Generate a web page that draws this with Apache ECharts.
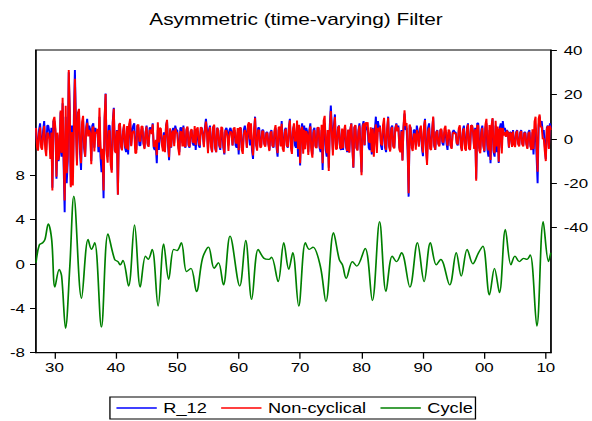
<!DOCTYPE html>
<html>
<head>
<meta charset="utf-8">
<script src="https://cdn.jsdelivr.net/npm/echarts@6/dist/echarts.min.js"></script>
<style>
  html, body { margin: 0; padding: 0; background: #fff; overflow: hidden; }
  /* the graph is laid out at 455px wide and stretched to 592px */
  #chart { width: 455px; height: 421px; transform: scaleX(1.3011); transform-origin: 0 0; }
</style>
</head>
<body>
<div id="chart"></div>
<script>
// Filter decomposition of monthly returns, six observations per year from 1927
const startYear = 1927;
const obsPerYear = 6;

// R_12 (right axis), one row per year
const r12 = [
  5, -3, -4, 4, 7, -2,
  -3, 4, 8, -2, -5, 6,
  6, 3, -6, 5, -22, 8,
  8, 3, -18, 2, -10, -6,
  12, -8, 16, -12, -33, 10,
  -20, -10, 30, 12, -21, 6,
  -16, 10, 31, 8, -10, 12,
  12, -6, -14, 5, 8, -4,
  -8, 5, 9, 3, 6, 4,
  -10, 6, 7, -4, 5, 3,
  4, -6, 10, -8, -15, -9,
  -26.7, 8, 20.4, -5, -8, 6,
  6, -10, -14, 8, 14, -5,
  -6, 4, -25, 6, 7, -3,
  -5, 3, 6, -4, -6, 4,
  -7, 5, 8, -3, 4, 6,
  7, -4, -5, 6, 5, -3,
  -3, 4, 5, -2, -4, 3,
  6, -2, -3, 5, 5, 3,
  7, -4, -5, -3, -11, 4,
  -5, 3, 4, -2, -4, 3,
  -5, 6, 8, -3, -9.6, 4,
  -4, 3, 5, -2, 6, 4,
  4, -3, -6, 5, 5, -2,
  6, -3, -4, 4, 5, -3,
  -4, 3, 4, -2, -3, 4,
  -5, 2, 3, -3, -4, 5,
  5, 2, -3, 5, 9, 4,
  -5, 4, 6, -3, -6, 5,
  6, -4, -6, 5, 4, -3,
  -5, 4, 3, -4, -7, 4,
  5, 3, -3, 4, 5, 3,
  -3, 4, 4, -3, -4, 3,
  -7, 4, 5, -4, -5, 4,
  6, 3, -4, 5, 5, -3,
  4, -5, -9, 3, 10, -2,
  -4, 5, 5, -3, -3, 4,
  4, -2, -3, 3, 3, -2,
  -5, 3, 4, -3, -4, 3,
  5, -4, -8, 4, 5, -3,
  8, -3, -4, 4, 5, -3,
  -4, 5, 9, -3, -6, 4,
  6, -3, -4, 5, -8, 4,
  -12, 4, 7, -5, 6, -3,
  5, 3, -6, 4, 7, -4,
  -7, 4, 5, -3, -4, 5,
  5, -4, -6, 4, -14, 5,
  7, -5, -8, 4, -13, 6,
  15, 5, -5, 6, 11, -4,
  -4, 5, 6, -4, -5, 4,
  -5, 3, 5, -4, -6, 4,
  -6, 4, 7, -3, -13, 5,
  6, -4, -5, 4, 7, -3,
  -15, 6, 8, -3, 6, 4,
  5, -4, -5, 3, -7, 5,
  -6, 4, 10, -3, 8, 5,
  6, -3, -5, 4, 7, -4,
  -6, 4, 10, -3, -5, 5,
  6, -3, -4, 5, 7, 4,
  6, -4, -5, 4, -9.6, 5,
  11.4, 4, 5, -5, -26, 6,
  5, -3, -4, 4, 4, -3,
  6, 3, -3, 4, 5, -4,
  -7.8, 5, 9, -4, -10, 5,
  7, -3, -4, 4, 9.6, -3,
  -5, 3, 4, -2, -3, 4,
  4, -2, -3, 3, 4, -2,
  -5, 3, 3, -3, -4, 3,
  4, 3, 3, -2, -3, 4,
  5, -3, -5, 4, 6, -3,
  -4, 5, 7, -4, -5, 6,
  6, 3, -4, 5, -18, 7,
  7, -4, -5, 4, 6, -3,
  -6, 5, 7, -5, -8, 4,
  -11, 5, 9, -6, -8, 6,
  -6, 4, -10.8, 5, 7, -4,
  8, 4, 5, 2, 4, 3,
  -4, 3, 3, -3, 4, -2,
  -3, 3, 4, -2, -3, 3,
  4, -2, -3, 3, 3, -2,
  -4, 3, 4, -3, -5, 3,
  -7, 4, 5, -8, -20, 6,
  10, 6, 8, 3, 4, -3,
  -9, 5, 6, -4, 7, 5
];

// Non-cyclical component (right axis), one row per year
const nonCyclical = [
  4.9, -3.7, -5.3, 2.5, 5.2, -3.9,
  -4.9, 2.0, 5.9, -4.5, -7.8, 2.8,
  2.4, -0.3, -9.0, 2.9, -23.2, 8.4,
  9.9, 4.5, -17.0, 2.8, -9.5, -5.3,
  12.8, -6.3, 18.5, -8.1, -27.7, 14.9,
  -15.5, -7.2, 31.0, 12.1, -21.8, 3.1,
  -21.0, 4.6, 27.0, 4.1, -12.0, 11.7,
  13.5, -3.7, -11.0, 7.7, 10.4, -2.8,
  -8.0, 4.1, 7.2, 1.1, 4.0, 2.3,
  -11.4, 4.6, 5.5, -5.7, 3.2, 2.4,
  4.5, -3.7, 14.0, -3.1, -9.3, -4.4,
  -23.2, 9.7, 20.2, -6.5, -10.7, 3.5,
  3.8, -11.7, -15.2, 7.1, 13.5, -5.4,
  -6.3, 3.8, -25.2, 6.0, 7.1, -3.1,
  -5.2, 3.2, 6.6, -2.9, -4.4, 5.8,
  -5.0, 6.5, 9.0, -3.3, 2.4, 3.4,
  3.5, -6.5, -6.4, 6.1, 6.5, -1.2,
  -0.9, 5.5, 5.8, -1.9, -4.6, 2.5,
  5.5, -2.6, -3.6, 4.1, 3.8, 2.2,
  6.6, -3.4, -3.4, -0.4, -7.4, 7.5,
  -1.6, 5.0, 4.6, -2.6, -5.7, 1.7,
  -6.0, 5.8, 8.6, -2.0, -8.3, 4.8,
  -3.8, 2.5, 3.8, -3.3, 4.7, 2.8,
  2.8, -4.3, -7.4, 3.4, 3.1, -3.4,
  5.2, -3.2, -3.6, 4.5, 5.6, -2.5,
  -3.5, 3.5, 4.4, -1.2, -1.8, 5.8,
  -2.7, 4.3, 5.2, -1.4, -3.0, 5.3,
  4.6, 1.4, -3.8, 4.0, 7.8, 2.7,
  -6.5, 2.9, 5.3, -3.4, -6.0, 5.2,
  6.4, -3.8, -6.0, 5.0, 3.9, -2.7,
  -4.2, 5.4, 4.9, -2.8, -6.5, 3.7,
  3.8, 1.2, -5.4, 2.0, 3.5, 2.3,
  -3.0, 4.6, 5.2, -1.5, -2.1, 4.9,
  -5.1, 5.0, 5.0, -4.9, -6.8, 2.1,
  4.0, 2.0, -4.0, 6.3, 7.5, -0.3,
  7.0, -2.8, -7.5, 3.5, 9.5, -2.9,
  -5.3, 3.9, 4.0, -3.9, -3.7, 3.4,
  3.5, -2.5, -3.5, 2.6, 2.6, -2.5,
  -5.5, 2.5, 3.4, -3.2, -3.7, 3.8,
  6.2, -2.6, -6.4, 5.1, 5.5, -3.4,
  6.8, -4.5, -5.8, 2.9, 4.5, -3.1,
  -3.6, 4.9, 8.4, -3.7, -6.8, 4.1,
  7.0, -1.0, -1.0, 8.3, -4.5, 6.3,
  -11.0, 3.8, 5.5, -6.7, 4.1, -4.7,
  3.5, 1.7, -7.2, 2.7, 5.6, -5.5,
  -8.5, 2.8, 4.0, -3.6, -4.2, 5.0,
  5.2, -3.2, -4.5, 6.3, -11.0, 8.2,
  10.4, -2.6, -6.5, 4.0, -14.5, 4.0,
  12.5, 2.5, -7.5, 4.2, 9.8, -4.8,
  -4.4, 4.8, 5.9, -3.8, -4.5, 4.7,
  -4.2, 4.1, 6.3, -3.1, -5.5, 4.2,
  -6.2, 3.9, 6.9, -3.0, -12.9, 5.2,
  6.2, -4.1, -5.3, 3.4, 6.0, -4.2,
  -16.4, 4.8, 7.0, -2.8, 7.5, 6.0,
  7.5, -1.1, -1.7, 5.2, -6.0, 4.5,
  -8.0, 1.3, 6.5, -6.3, 5.0, 3.3,
  5.5, -2.3, -3.0, 6.3, 9.5, -2.3,
  -5.0, 4.3, 9.5, -3.6, -5.7, 4.3,
  5.3, -3.5, -4.3, 4.6, 6.5, 3.4,
  5.2, -4.9, -6.0, 3.4, -9.8, 5.7,
  12.9, 5.8, 7.1, -3.2, -24.5, 6.5,
  4.5, -4.0, -5.5, 2.3, 2.1, -4.9,
  4.1, 1.8, -3.5, 4.3, 6.0, -2.7,
  -6.2, 5.6, 8.5, -5.2, -11.8, 3.2,
  5.1, -4.5, -5.0, 3.8, 10.1, -2.7,
  -4.9, 2.9, 3.7, -2.4, -3.4, 4.1,
  4.5, -1.1, -1.7, 4.6, 5.9, -0.1,
  -3.1, 4.2, 3.5, -3.0, -4.5, 2.3,
  3.0, 2.3, 2.5, -2.0, -2.5, 4.8,
  6.1, -2.7, -5.5, 3.2, 4.8, -4.3,
  -5.3, 4.1, 6.5, -4.3, -5.0, 6.0,
  6.0, 2.8, -4.5, 4.3, -18.9, 6.1,
  6.0, -5.3, -6.5, 2.8, 5.0, -3.3,
  -5.5, 6.3, 9.0, -2.6, -5.2, 6.2,
  -9.5, 6.0, 9.4, -5.1, -6.5, 8.1,
  -3.4, 5.6, -10.3, 4.3, 5.0, -6.6,
  4.9, 1.5, 3.0, 0.9, 3.7, 2.9,
  -3.9, 2.8, 2.5, -3.6, 3.3, -2.7,
  -3.7, 2.5, 3.7, -2.4, -3.4, 2.6,
  3.5, -2.5, -3.4, 2.6, 2.6, -2.5,
  -4.5, 2.4, 3.2, -3.4, -5.0, 4.3,
  -4.5, 7.8, 10.0, -2.9, -14.8, 9.1,
  11.0, 5.3, 5.5, -0.1, 0.3, -5.4,
  -10.0, 4.4, 5.8, -4.6, 6.0, 4.0
];

// Cycle (left axis): turning points of the band-pass component
const cycleYears = [
  1927.00, 1927.54, 1928.09, 1928.46, 1929.00, 1929.55, 1930.08, 1930.78, 1931.17, 1931.81,
  1932.51, 1933.16, 1934.41, 1935.48, 1936.03, 1936.56, 1937.65, 1938.72, 1939.80, 1940.34,
  1940.72, 1941.15, 1942.07, 1943.04, 1943.97, 1944.82, 1945.26, 1945.91, 1946.88, 1947.79,
  1948.60, 1949.41, 1949.96, 1950.66, 1951.51, 1952.23, 1953.13, 1954.11, 1955.08, 1956.00,
  1956.70, 1957.51, 1958.59, 1960.17, 1961.14, 1962.11, 1963.18, 1964.10, 1964.91, 1965.35,
  1966.42, 1967.34, 1968.15, 1968.80, 1969.77, 1970.86, 1971.51, 1972.09, 1973.29, 1974.20,
  1975.44, 1976.37, 1976.90, 1977.50, 1978.52, 1979.22, 1980.58, 1981.76, 1982.94, 1983.98,
  1985.00, 1985.70, 1986.51, 1987.87, 1989.10, 1990.19, 1991.21, 1992.18, 1992.89, 1994.35,
  1995.42, 1996.23, 1997.20, 1998.12, 1999.05, 1999.75, 2000.83, 2001.64, 2002.45, 2003.42,
  2004.33, 2004.98, 2005.69, 2006.39, 2006.92, 2007.47, 2008.54, 2009.58, 2010.44, 2010.81
];
const cycleValues = [
  0.1, 1.7, 1.9, 2.2, 3.6, 2.2, -2.1, -0.5, -1.1, -5.8,
  -0.2, 6.1, -3.1, 2.2, 1.3, 1.9, -5.7, 2.7, 0.4, 0.2,
  -0.1, 0.3, -2.0, 3.5, -2.1, 0.7, 0.4, 1.3, -3.8, 1.8,
  -1.4, 1.3, 1.2, 1.9, -0.7, -0.4, -2.5, 0.5, 1.5, -0.4,
  0.1, -1.9, 2.5, -2.0, 2.1, -3.2, 1.3, 0.5, 0.4, 0.6,
  -1.6, 1.9, -0.5, 1.0, -3.8, 1.9, 1.3, 1.5, -0.2, -3.4,
  2.8, 0.4, -0.1, -1.3, 0.2, -0.2, 1.4, -3.3, 3.8, -2.5,
  0.7, 0.2, 1.0, -2.1, 1.9, -1.6, 1.9, -0.1, 0.4, -1.9,
  1.0, -1.1, 1.3, 0.0, 1.0, 1.6, -2.8, -0.4, -2.6, 3.1,
  -0.1, 0.7, 0.2, 0.5, 0.4, 0.8, -5.6, 3.8, 0.2, 1.0
];

// Axis ticks
const yearTicks = [1930, 1940, 1950, 1960, 1970, 1980, 1990, 2000, 2010];
const leftTicks = [-8, -4, 0, 4, 8];
const rightTicks = [-40, -20, 0, 20, 40];

const timeOf = i => startYear + i / obsPerYear;
const pairs = arr => arr.map((v, i) => [timeOf(i), v]);
const cyclePairs = cycleYears.map((t, i) => [t, cycleValues[i]]);

const FONT = '"Liberation Sans", Arial, sans-serif';
const chart = echarts.init(document.getElementById('chart'), null, { renderer: 'svg' });

chart.setOption({
  backgroundColor: '#ffffff',
  animation: false,
  title: {
    text: 'Asymmetric (time-varying) Filter',
    left: 'center',
    top: 6,
    textStyle: { fontFamily: FONT, fontSize: 16, fontWeight: 'normal', color: '#000' }
  },
  legend: {
    data: ['R_12', 'Non-cyclical', 'Cycle'],
    icon: 'rect',
    left: 84.5,
    top: 397,
    padding: [4, 2, 4, 5],
    itemWidth: 31,
    itemHeight: 1.4,
    itemGap: 11,
    borderColor: '#000',
    borderWidth: 1,
    textStyle: { fontFamily: FONT, fontSize: 14, color: '#000' }
  },
  grid: {
    left: 27.67, right: 29.75, top: 50, bottom: 68.3,
    show: true, borderColor: '#000', borderWidth: 1, backgroundColor: 'transparent'
  },
  xAxis: {
    type: 'value',
    min: 1927,
    max: 2010.83,
    splitLine: { show: false },
    axisLine: { show: true, onZero: false, lineStyle: { color: '#000', width: 1 } },
    axisTick: { show: true, customValues: yearTicks, length: 6, lineStyle: { color: '#000' } },
    axisLabel: {
      customValues: yearTicks,
      margin: 8,
      fontFamily: FONT, fontSize: 13, color: '#000',
      formatter: v => String(Math.round(v) % 100).padStart(2, '0')
    }
  },
  yAxis: [
    {
      type: 'value',
      position: 'left',
      min: -8,
      max: 19.25,
      splitLine: { show: false },
      axisLine: { show: true, onZero: false, lineStyle: { color: '#000', width: 1 } },
      axisTick: { show: true, customValues: leftTicks, length: 4.6, lineStyle: { color: '#000' } },
      axisLabel: { customValues: leftTicks, margin: 8.5, fontFamily: FONT, fontSize: 13, color: '#000' }
    },
    {
      type: 'value',
      position: 'right',
      min: -96.25,
      max: 40,
      splitLine: { show: false },
      axisLine: { show: true, onZero: false, lineStyle: { color: '#000', width: 1 } },
      axisTick: { show: true, customValues: rightTicks, length: 4.6, lineStyle: { color: '#000' } },
      axisLabel: { customValues: rightTicks, margin: 9.8, fontFamily: FONT, fontSize: 13, color: '#000' }
    }
  ],
  series: [
    {
      name: 'R_12', type: 'line', yAxisIndex: 1, symbol: 'none',
      data: pairs(r12), color: '#0000ff',
      lineStyle: { color: '#0000ff', width: 1.5 }
    },
    {
      name: 'Non-cyclical', type: 'line', yAxisIndex: 1, symbol: 'none',
      data: pairs(nonCyclical), color: '#ff0000',
      lineStyle: { color: '#ff0000', width: 1.5 }
    },
    {
      name: 'Cycle', type: 'line', yAxisIndex: 0, symbol: 'none', smooth: 0.35,
      data: cyclePairs, color: '#008000',
      lineStyle: { color: '#008000', width: 1.3 }
    }
  ]
});
</script>
</body>
</html>
